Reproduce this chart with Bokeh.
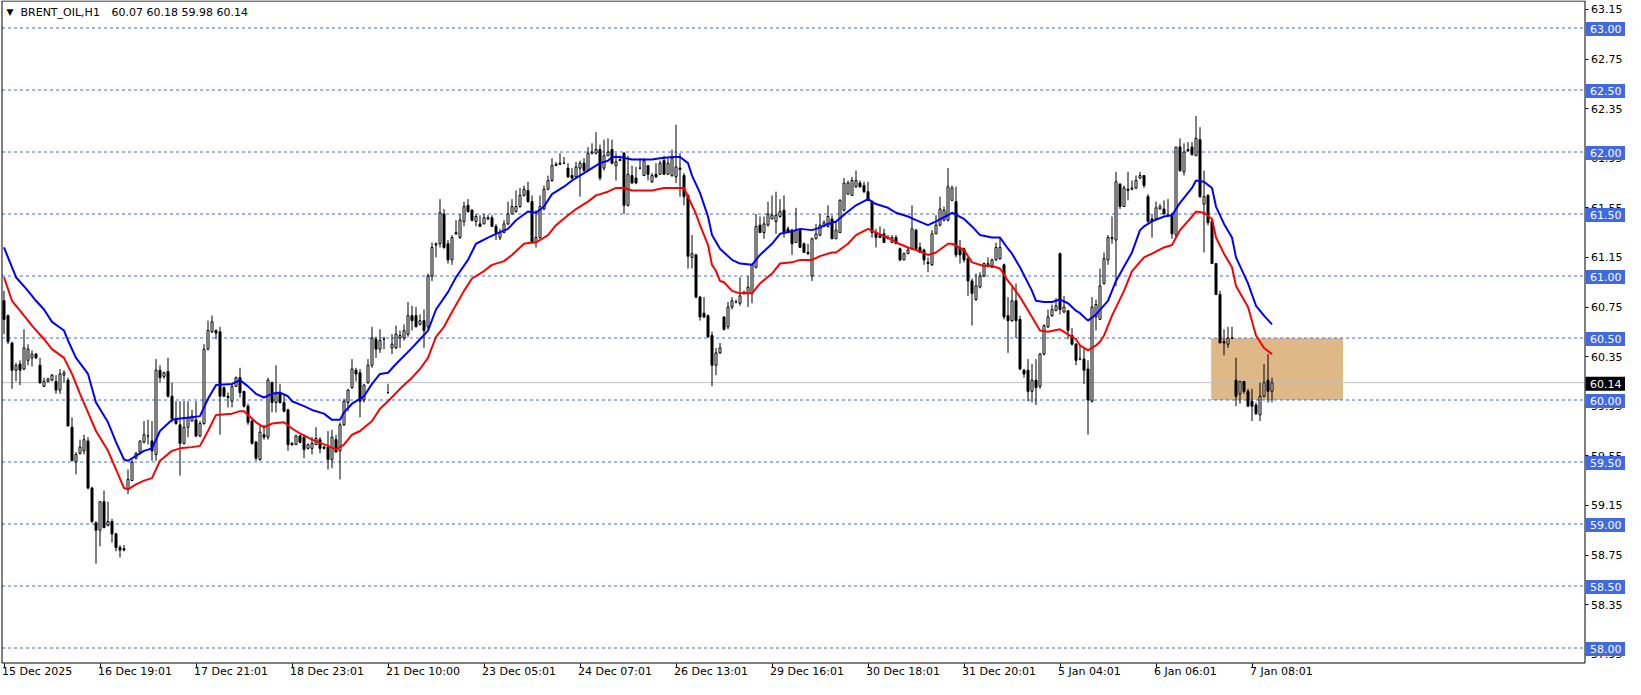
from bokeh.plotting import figure
from bokeh.models import (Range1d, LinearAxis, FixedTicker, NumeralTickFormatter,
                          BoxAnnotation, Label, ColumnDataSource)
from bokeh.core.properties import value
from bokeh.embed import file_html
from bokeh.resources import INLINE

# ---------------- data ----------------
symbol = "BRENT_OIL,H1"
last_ohlc = [60.07, 60.18, 59.98, 60.14]

opens = [
    60.80, 60.68, 60.46, 60.24, 60.29, 60.25, 60.32, 60.34, 60.37, 60.28,
    60.11, 60.15, 60.16, 60.15, 60.08, 60.20, 60.16, 59.78, 59.50, 59.57,
    59.59, 59.67, 59.29, 59.01, 58.95, 59.18, 58.99, 59.02, 58.92, 58.81,
    58.80, 59.28, 59.35, 59.53, 59.58, 59.66, 59.71, 59.67, 59.56, 60.24,
    60.19, 60.23, 60.03, 59.85, 59.80, 59.65, 59.78, 59.83, 59.84, 59.71,
    59.81, 60.41, 60.55, 60.56, 60.55, 60.10, 60.03, 59.99, 60.11, 60.18,
    60.07, 59.95, 59.83, 59.66, 59.52, 59.72, 59.70, 60.14, 59.98, 60.06,
    59.98, 59.92, 59.65, 59.64, 59.71, 59.70, 59.61, 59.61, 59.64, 59.68,
    59.62, 59.62, 59.52, 59.68, 59.59, 59.80, 59.98, 60.10, 60.24, 60.22,
    60.00, 60.14, 60.28, 60.49, 60.41, 60.49, 60.06, 60.42, 60.42, 60.50,
    60.50, 60.53, 60.68, 60.68, 60.61, 60.64, 60.59, 61.00, 61.25, 61.26,
    61.50, 61.26, 61.13, 61.34, 61.31, 61.44, 61.57, 61.53, 61.44, 61.42,
    61.42, 61.46, 61.47, 61.40, 61.31, 61.35, 61.42, 61.50, 61.52, 61.56,
    61.65, 61.69, 61.60, 61.27, 61.31, 61.54, 61.70, 61.77, 61.89, 61.90,
    61.91, 61.87, 61.81, 61.80, 61.87, 61.91, 61.85, 61.99, 61.99, 62.02,
    61.87, 61.97, 62.02, 61.89, 61.93, 61.99, 61.57, 61.81, 61.79, 61.87,
    61.81, 61.89, 61.76, 61.82, 61.82, 61.93, 61.82, 61.81, 61.80, 61.87,
    61.81, 61.65, 61.15, 61.17, 60.83, 60.70, 60.68, 60.52, 60.28, 60.38,
    60.67, 60.59, 60.75, 60.79, 60.78, 60.86, 60.86, 60.86, 61.07, 61.41,
    61.35, 61.41, 61.46, 61.44, 61.48, 61.53, 61.38, 61.37, 61.27, 61.37,
    61.26, 61.19, 61.00, 61.30, 61.33, 61.40, 61.40, 61.46, 61.30, 61.35,
    61.53, 61.66, 61.65, 61.72, 61.75, 61.73, 61.68, 61.60, 61.35, 61.33,
    61.34, 61.31, 61.27, 61.31, 61.22, 61.13, 61.18, 61.22, 61.37, 61.23,
    61.21, 61.11, 61.09, 61.34, 61.41, 61.45, 61.45, 61.61, 61.60, 61.23,
    61.22, 61.14, 60.96, 60.81, 60.91, 61.00, 61.09, 61.07, 61.13, 61.14,
    61.09, 60.68, 60.64, 60.80, 60.65, 60.24, 60.24, 60.07, 60.16, 60.11,
    60.37, 60.59, 60.68, 60.72, 61.18, 60.71, 60.72, 60.52, 60.45, 60.33,
    60.33, 60.25, 59.99, 60.67, 60.65, 60.94, 61.13, 61.30, 61.29, 61.74,
    61.56, 61.69, 61.70, 61.71, 61.79, 61.81, 61.64, 61.46, 61.46, 61.54,
    61.54, 61.49, 61.50, 61.33, 62.04, 61.84, 62.01, 62.04, 61.97, 62.10,
    61.58, 61.65, 61.44, 61.10, 60.85, 60.47, 60.45, 60.50, 60.16, 60.05,
    60.15, 60.07, 59.99, 59.96, 59.88, 60.03, 60.16, 60.07,
]

highs = [
    60.88, 60.69, 60.47, 60.30, 60.32, 60.57, 60.45, 60.40, 60.38, 60.34,
    60.18, 60.18, 60.21, 60.20, 60.25, 60.24, 60.18, 59.86, 59.58, 59.68,
    59.72, 59.70, 59.30, 59.02, 59.18, 59.27, 59.18, 59.04, 58.93, 58.83,
    58.83, 59.44, 59.52, 59.58, 59.67, 59.83, 59.84, 59.83, 60.33, 60.28,
    60.23, 60.34, 60.14, 59.99, 59.99, 59.99, 59.99, 59.92, 59.99, 59.83,
    60.45, 60.64, 60.68, 60.57, 60.59, 60.11, 60.06, 60.13, 60.19, 60.26,
    60.07, 59.97, 59.84, 59.67, 59.79, 59.80, 60.18, 60.15, 60.28, 60.13,
    60.05, 59.93, 59.66, 59.72, 59.72, 59.72, 59.65, 59.70, 59.78, 59.70,
    59.63, 59.75, 59.76, 59.72, 59.82, 60.01, 60.09, 60.33, 60.26, 60.25,
    60.13, 60.33, 60.59, 60.51, 60.57, 60.51, 60.13, 60.53, 60.60, 60.56,
    60.61, 60.79, 60.76, 60.75, 60.69, 60.73, 61.02, 61.27, 61.27, 61.62,
    61.54, 61.29, 61.33, 61.45, 61.50, 61.60, 61.62, 61.54, 61.50, 61.49,
    61.50, 61.49, 61.49, 61.42, 61.38, 61.45, 61.60, 61.62, 61.69, 61.71,
    61.73, 61.76, 61.65, 61.53, 61.65, 61.73, 61.81, 61.95, 61.92, 61.99,
    61.96, 61.91, 61.87, 61.92, 61.93, 61.95, 62.04, 62.07, 62.16, 62.06,
    62.10, 62.11, 62.10, 61.99, 61.97, 62.00, 61.97, 61.89, 61.88, 61.95,
    61.95, 61.89, 61.83, 61.91, 61.93, 61.97, 61.95, 62.02, 62.22, 61.99,
    61.83, 61.66, 61.33, 61.18, 60.84, 60.83, 60.69, 60.55, 60.42, 60.46,
    60.67, 60.79, 60.83, 60.81, 60.99, 60.88, 61.00, 61.10, 61.50, 61.48,
    61.48, 61.60, 61.65, 61.68, 61.62, 61.65, 61.40, 61.38, 61.55, 61.38,
    61.27, 61.26, 61.31, 61.42, 61.50, 61.45, 61.57, 61.49, 61.44, 61.62,
    61.79, 61.77, 61.80, 61.85, 61.77, 61.76, 61.76, 61.61, 61.38, 61.40,
    61.38, 61.33, 61.33, 61.33, 61.23, 61.19, 61.23, 61.57, 61.38, 61.27,
    61.22, 61.15, 61.37, 61.49, 61.64, 61.56, 61.87, 61.73, 61.72, 61.29,
    61.23, 61.15, 60.98, 61.02, 61.03, 61.11, 61.15, 61.14, 61.27, 61.31,
    61.10, 60.83, 60.91, 60.94, 60.68, 60.25, 60.33, 60.29, 60.33, 60.38,
    60.61, 60.73, 60.77, 60.82, 61.19, 60.84, 60.72, 60.58, 60.46, 60.44,
    60.42, 60.32, 60.83, 60.81, 61.06, 61.19, 61.33, 61.48, 61.84, 61.75,
    61.73, 61.84, 61.77, 61.81, 61.84, 61.81, 61.66, 61.50, 61.60, 61.58,
    61.61, 61.62, 61.51, 62.04, 62.11, 62.07, 62.08, 62.08, 62.29, 62.20,
    61.85, 61.66, 61.45, 61.10, 60.88, 60.57, 60.59, 60.59, 60.34, 60.15,
    60.15, 60.09, 60.09, 59.98, 60.14, 60.29, 60.37, 60.18,
]

lows = [
    60.53, 60.45, 60.09, 60.15, 60.12, 60.24, 60.28, 60.27, 60.33, 60.13,
    60.11, 60.14, 60.15, 60.05, 60.05, 60.14, 59.79, 59.51, 59.40, 59.56,
    59.56, 59.28, 59.01, 58.68, 58.82, 58.97, 58.98, 58.85, 58.78, 58.73,
    58.78, 59.24, 59.35, 59.52, 59.56, 59.65, 59.64, 59.51, 59.51, 60.14,
    60.17, 60.02, 59.82, 59.80, 59.39, 59.64, 59.70, 59.83, 59.70, 59.70,
    59.80, 60.40, 60.54, 60.49, 59.72, 60.03, 59.94, 59.94, 60.11, 60.02,
    59.94, 59.80, 59.64, 59.51, 59.51, 59.68, 59.68, 59.90, 59.90, 59.97,
    59.90, 59.59, 59.63, 59.64, 59.65, 59.53, 59.60, 59.56, 59.64, 59.57,
    59.60, 59.44, 59.45, 59.58, 59.36, 59.79, 59.91, 60.09, 60.15, 59.86,
    59.98, 60.13, 60.26, 60.34, 60.38, 60.41, 60.05, 60.37, 60.41, 60.42,
    60.48, 60.51, 60.56, 60.59, 60.60, 60.42, 60.57, 60.96, 61.15, 61.23,
    61.22, 61.10, 61.09, 61.33, 61.30, 61.40, 61.51, 61.44, 61.40, 61.40,
    61.42, 61.45, 61.40, 61.29, 61.29, 61.35, 61.41, 61.50, 61.51, 61.55,
    61.64, 61.59, 61.26, 61.23, 61.30, 61.53, 61.69, 61.76, 61.89, 61.90,
    61.91, 61.79, 61.78, 61.79, 61.64, 61.84, 61.84, 61.98, 61.98, 61.77,
    61.85, 61.97, 61.90, 61.77, 61.93, 61.50, 61.56, 61.74, 61.74, 61.86,
    61.81, 61.77, 61.75, 61.79, 61.82, 61.82, 61.82, 61.80, 61.75, 61.64,
    61.57, 61.06, 61.06, 60.82, 60.64, 60.66, 60.50, 60.11, 60.20, 60.37,
    60.56, 60.57, 60.73, 60.78, 60.76, 60.85, 60.75, 60.78, 61.06, 61.35,
    61.30, 61.40, 61.46, 61.34, 61.47, 61.31, 61.35, 61.17, 61.27, 61.23,
    61.19, 61.17, 60.96, 61.30, 61.32, 61.40, 61.39, 61.30, 61.30, 61.35,
    61.52, 61.66, 61.65, 61.71, 61.71, 61.67, 61.61, 61.31, 61.23, 61.31,
    61.27, 61.30, 61.27, 61.26, 61.12, 61.13, 61.18, 61.21, 61.21, 61.19,
    61.09, 61.03, 61.08, 61.34, 61.40, 61.44, 61.44, 61.61, 61.15, 61.10,
    61.11, 60.84, 60.60, 60.80, 60.90, 60.99, 61.08, 61.07, 61.12, 61.13,
    60.65, 60.38, 60.63, 60.50, 60.24, 60.18, 59.99, 59.98, 59.96, 60.09,
    60.36, 60.58, 60.67, 60.72, 60.69, 60.70, 60.49, 60.44, 60.28, 60.32,
    60.13, 59.72, 59.98, 60.56, 60.65, 60.93, 61.09, 61.26, 60.92, 61.54,
    61.56, 61.61, 61.69, 61.70, 61.78, 61.71, 61.43, 61.31, 61.46, 61.54,
    61.50, 61.48, 61.30, 61.31, 61.84, 61.81, 62.00, 61.97, 61.97, 61.63,
    61.19, 61.41, 61.10, 60.85, 60.46, 60.36, 60.42, 60.49, 59.95, 59.97,
    60.05, 59.95, 59.83, 59.88, 59.83, 60.02, 59.98, 59.98,
]

closes = [
    60.65, 60.47, 60.24, 60.28, 60.24, 60.42, 60.41, 60.37, 60.34, 60.14,
    60.15, 60.17, 60.20, 60.08, 60.21, 60.22, 59.79, 59.51, 59.56, 59.62,
    59.68, 59.29, 59.02, 58.95, 59.18, 58.97, 59.02, 58.92, 58.81, 58.79,
    58.79, 59.36, 59.50, 59.57, 59.67, 59.72, 59.71, 59.59, 60.24, 60.18,
    60.22, 60.03, 59.85, 59.81, 59.65, 59.78, 59.86, 59.87, 59.71, 59.81,
    60.41, 60.56, 60.63, 60.54, 60.03, 60.03, 60.02, 60.11, 60.18, 60.06,
    59.95, 59.82, 59.65, 59.53, 59.74, 59.70, 60.16, 59.98, 60.05, 59.98,
    59.91, 59.64, 59.64, 59.71, 59.66, 59.60, 59.64, 59.65, 59.69, 59.61,
    59.61, 59.52, 59.70, 59.58, 59.80, 59.99, 60.08, 60.25, 60.21, 59.99,
    60.12, 60.28, 60.50, 60.41, 60.48, 60.49, 60.06, 60.45, 60.53, 60.52,
    60.56, 60.68, 60.64, 60.59, 60.64, 60.56, 61.00, 61.23, 61.26, 61.51,
    61.23, 61.13, 61.31, 61.35, 61.45, 61.56, 61.52, 61.45, 61.48, 61.40,
    61.47, 61.47, 61.40, 61.35, 61.35, 61.42, 61.50, 61.56, 61.56, 61.65,
    61.70, 61.60, 61.27, 61.31, 61.56, 61.70, 61.77, 61.89, 61.90, 61.91,
    61.91, 61.80, 61.79, 61.88, 61.91, 61.85, 61.99, 62.00, 62.02, 61.79,
    61.97, 62.00, 61.91, 61.92, 61.94, 61.57, 61.82, 61.75, 61.75, 61.87,
    61.93, 61.82, 61.81, 61.80, 61.91, 61.82, 61.91, 61.95, 61.88, 61.86,
    61.64, 61.16, 61.18, 60.83, 60.67, 60.67, 60.51, 60.28, 60.38, 60.42,
    60.57, 60.75, 60.80, 60.79, 60.84, 60.87, 60.91, 61.09, 61.40, 61.35,
    61.42, 61.50, 61.49, 61.49, 61.52, 61.35, 61.35, 61.26, 61.37, 61.23,
    61.19, 61.18, 61.30, 61.34, 61.41, 61.43, 61.48, 61.30, 61.37, 61.61,
    61.75, 61.75, 61.77, 61.77, 61.72, 61.68, 61.61, 61.35, 61.31, 61.31,
    61.27, 61.30, 61.31, 61.26, 61.13, 61.18, 61.21, 61.38, 61.22, 61.19,
    61.13, 61.10, 61.34, 61.41, 61.54, 61.53, 61.72, 61.71, 61.17, 61.17,
    61.13, 60.96, 60.86, 60.92, 61.00, 61.10, 61.10, 61.13, 61.23, 61.23,
    60.67, 60.64, 60.80, 60.64, 60.25, 60.21, 60.07, 60.16, 60.10, 60.37,
    60.60, 60.67, 60.73, 60.76, 60.73, 60.75, 60.56, 60.45, 60.32, 60.33,
    60.24, 60.00, 60.75, 60.77, 60.92, 61.14, 61.31, 61.31, 61.76, 61.56,
    61.71, 61.70, 61.71, 61.77, 61.81, 61.73, 61.44, 61.44, 61.55, 61.56,
    61.50, 61.49, 61.34, 62.04, 61.85, 62.00, 62.02, 61.98, 62.11, 61.64,
    61.64, 61.43, 61.10, 60.85, 60.46, 60.46, 60.50, 60.50, 60.03, 60.15,
    60.07, 59.95, 59.95, 59.89, 60.03, 60.14, 60.07, 60.14,
]

# moving-average style bands (bar index, price)
blue_bar = [0, 3, 6, 8, 10, 12, 15, 16, 18, 21, 23, 26, 28, 30, 31, 33, 35, 37, 39, 42,
            44, 47, 49, 51, 53, 57, 59, 61, 63, 65, 67, 69, 71, 72, 75, 77, 80, 82, 84, 85,
            87, 90, 92, 94, 96, 98, 102, 104, 106, 108, 111, 113, 116, 118, 121, 123, 126, 128, 131, 133,
            135, 137, 140, 142, 145, 147, 149, 151, 152, 154, 157, 159, 162, 164, 167, 169, 171, 172, 174, 176,
            177, 179, 182, 184, 187, 189, 192, 194, 197, 199, 202, 204, 206, 208, 211, 213, 216, 218, 221, 223,
            226, 228, 231, 233, 236, 237, 240, 242, 244, 247, 249, 251, 252, 254, 257, 258, 260, 262, 264, 266,
            268, 269, 271, 273, 276, 278, 282, 284, 285, 287, 290, 292, 294, 297, 298, 300, 302, 303, 305, 307,
            308, 311, 313, 315, 317]
blue_price = [61.23, 60.99, 60.88, 60.80, 60.73, 60.63, 60.56, 60.48, 60.34, 60.21, 59.98, 59.82, 59.66, 59.52, 59.51, 59.55, 59.59, 59.61, 59.75, 59.84,
              59.85, 59.86, 59.87, 60.01, 60.12, 60.13, 60.16, 60.11, 60.05, 60.02, 60.05, 60.06, 60.03, 59.99, 59.95, 59.92, 59.89, 59.84, 59.84, 59.90,
              59.97, 60.03, 60.13, 60.21, 60.22, 60.29, 60.42, 60.49, 60.56, 60.73, 60.87, 60.99, 61.13, 61.26, 61.31, 61.34, 61.38, 61.45, 61.52, 61.51,
              61.56, 61.66, 61.72, 61.77, 61.83, 61.87, 61.91, 61.93, 61.96, 61.96, 61.94, 61.94, 61.94, 61.95, 61.96, 61.96, 61.91, 61.81, 61.67, 61.48,
              61.33, 61.22, 61.13, 61.10, 61.09, 61.17, 61.26, 61.34, 61.36, 61.38, 61.37, 61.39, 61.42, 61.44, 61.52, 61.57, 61.62, 61.58, 61.55, 61.51,
              61.48, 61.45, 61.41, 61.44, 61.49, 61.51, 61.46, 61.40, 61.33, 61.31, 61.31, 61.22, 61.18, 61.07, 60.88, 60.80, 60.79, 60.79, 60.81, 60.78,
              60.72, 60.70, 60.64, 60.69, 60.80, 60.96, 61.19, 61.37, 61.40, 61.44, 61.48, 61.49, 61.59, 61.71, 61.77, 61.76, 61.71, 61.56, 61.42, 61.31,
              61.15, 60.94, 60.76, 60.68, 60.61]

red_bar = [0, 2, 4, 7, 10, 12, 15, 17, 19, 21, 23, 26, 28, 30, 31, 33, 35, 37, 39, 42,
           44, 47, 49, 51, 53, 57, 59, 60, 63, 65, 67, 70, 72, 74, 77, 81, 83, 85, 87, 89,
           92, 94, 96, 99, 102, 104, 106, 108, 110, 112, 115, 117, 120, 122, 125, 127, 130, 132, 133, 136,
           138, 141, 143, 146, 148, 151, 153, 155, 157, 160, 162, 165, 167, 170, 171, 173, 174, 176, 177, 178,
           179, 180, 182, 184, 187, 189, 192, 194, 197, 199, 202, 204, 207, 208, 211, 213, 216, 218, 221, 223,
           226, 228, 231, 233, 236, 237, 240, 242, 245, 247, 249, 251, 252, 254, 257, 259, 261, 264, 266, 268,
           269, 271, 272, 273, 274, 275, 277, 280, 282, 285, 287, 290, 292, 294, 297, 298, 300, 302, 303, 305,
           307, 308, 311, 313, 315, 317]
red_price = [60.99, 60.80, 60.72, 60.60, 60.49, 60.41, 60.34, 60.21, 60.05, 59.90, 59.75, 59.59, 59.44, 59.29, 59.28, 59.32, 59.35, 59.37, 59.51, 59.59,
             59.61, 59.62, 59.63, 59.75, 59.88, 59.89, 59.91, 59.91, 59.82, 59.78, 59.81, 59.82, 59.77, 59.73, 59.68, 59.63, 59.60, 59.64, 59.72, 59.75,
             59.83, 59.93, 59.99, 60.09, 60.18, 60.25, 60.34, 60.51, 60.59, 60.71, 60.88, 60.98, 61.04, 61.09, 61.12, 61.17, 61.26, 61.27, 61.27, 61.33,
             61.41, 61.49, 61.54, 61.60, 61.65, 61.68, 61.71, 61.71, 61.69, 61.69, 61.69, 61.71, 61.71, 61.71, 61.64, 61.50, 61.41, 61.25, 61.09, 61.04,
             60.96, 60.95, 60.88, 60.86, 60.86, 60.94, 61.02, 61.10, 61.11, 61.13, 61.13, 61.16, 61.19, 61.19, 61.26, 61.33, 61.38, 61.35, 61.31, 61.27,
             61.23, 61.21, 61.17, 61.19, 61.26, 61.26, 61.21, 61.11, 61.08, 61.08, 61.06, 60.96, 60.92, 60.83, 60.67, 60.56, 60.55, 60.57, 60.53, 60.49,
             60.44, 60.40, 60.42, 60.44, 60.47, 60.52, 60.68, 60.88, 61.04, 61.15, 61.18, 61.23, 61.25, 61.37, 61.48, 61.52, 61.51, 61.46, 61.31, 61.18,
             61.07, 60.92, 60.75, 60.52, 60.42, 60.37]

time_label_bars = [0, 24, 48, 72, 96, 120, 144, 168, 192, 216, 240, 264, 288, 312]
time_labels = ["15 Dec 2025", "16 Dec 19:01", "17 Dec 21:01", "18 Dec 23:01", "21 Dec 10:00",
               "23 Dec 05:01", "24 Dec 07:01", "26 Dec 13:01", "29 Dec 16:01", "30 Dec 18:01",
               "31 Dec 20:01", "5 Jan 04:01", "6 Jan 06:01", "7 Jan 08:01"]

price_ticks = [57.95, 58.35, 58.75, 59.15, 59.55, 59.95, 60.35, 60.75,
               61.15, 61.55, 61.95, 62.35, 62.75, 63.15]
level_lines = [58.00, 58.50, 59.00, 59.50, 60.00, 60.50, 61.00, 61.50, 62.00, 62.50, 63.00]
current_price = 60.14

zone_left_bar, zone_right_bar = 301.8, 334.75
zone_low, zone_high = 60.00, 60.50

# ---------------- geometry / style ----------------
FONT = "DejaVu Sans"
W, H = 1625, 679
PX_BAR = 4.0          # pixels per hourly bar
PX_PRICE = 124.0      # pixels per 1.00 of price

X0 = -0.875
XR = X0 + W / PX_BAR
Y1 = 63.0 + 27.5 / PX_PRICE
YB = Y1 - H / PX_PRICE

def bx(px):           # horizontal pixel -> bar coordinate
    return X0 + px / PX_BAR

def pv(px):           # vertical pixel (from top) -> price
    return Y1 - px / PX_PRICE

def py(dpx):          # vertical pixel distance -> price distance
    return dpx / PX_PRICE

chart_left = bx(1.5)
chart_right = bx(1584.5)
chart_top = pv(0.5)
chart_bottom = pv(662.5)

p = figure(width=W, height=H, output_backend="svg", toolbar_location=None,
           x_range=Range1d(X0, XR), y_range=Range1d(YB, Y1),
           x_axis_location=None, y_axis_location=None,
           min_border_left=0, min_border_right=0, min_border_top=0, min_border_bottom=0,
           background_fill_color="white", border_fill_color="white")
p.xgrid.grid_line_color = None
p.ygrid.grid_line_color = None
p.outline_line_color = None

# price axis (ticks + labels) drawn at the chart's right border
yax = LinearAxis(ticker=FixedTicker(ticks=price_ticks, minor_ticks=[]),
                 formatter=NumeralTickFormatter(format="0.00"),
                 fixed_location=chart_right)
yax.level = "underlay"
yax.axis_line_color = None
yax.major_tick_out = 3
yax.major_tick_in = 0
yax.minor_tick_out = 0
yax.minor_tick_in = 0
yax.major_tick_line_color = "black"
yax.major_label_text_font = FONT
yax.major_label_text_font_size = "11px"
yax.major_label_text_color = "black"
yax.major_label_standoff = 3
p.add_layout(yax, "right")

# time axis ticks at the chart's bottom border
xax = LinearAxis(ticker=FixedTicker(ticks=time_label_bars, minor_ticks=[]),
                 fixed_location=chart_bottom)
xax.level = "underlay"
xax.axis_line_color = None
xax.major_label_overrides = {b: "" for b in time_label_bars}
xax.major_label_text_font_size = "1px"
xax.major_tick_out = 4
xax.major_tick_in = 0
xax.minor_tick_out = 0
xax.minor_tick_in = 0
xax.major_tick_line_color = "black"
p.add_layout(xax, "below")

# zone rectangle
p.add_layout(BoxAnnotation(left=zone_left_bar, right=zone_right_bar, bottom=zone_low, top=zone_high,
                           fill_color="#DEB887", fill_alpha=1.0, line_color=None, level="underlay"))

# horizontal levels and current-price line
p.segment(x0=[chart_left] * len(level_lines), y0=level_lines,
          x1=[chart_right] * len(level_lines), y1=level_lines,
          line_color="#4169E1", line_width=1, line_dash="3 3")
p.segment(x0=[chart_left], y0=[current_price], x1=[chart_right], y1=[current_price],
          line_color="#C0C0C0", line_width=1)

# candles
n = min(len(opens), len(highs), len(lows), len(closes))
xs = list(range(n))
src = ColumnDataSource(dict(
    x=xs,
    left=[i - 0.25 for i in xs],
    right=[i + 0.25 for i in xs],
    hi=highs[:n], lo=lows[:n],
    top=[max(o, c) for o, c in zip(opens[:n], closes[:n])],
    bot=[min(o, c) for o, c in zip(opens[:n], closes[:n])],
    fill=["white" if c >= o else "black" for o, c in zip(opens[:n], closes[:n])],
))
p.segment(x0="x", y0="lo", x1="x", y1="hi", source=src, line_color="black", line_width=1)
p.quad(left="left", right="right", top="top", bottom="bot", source=src,
       fill_color="fill", line_color="black", line_width=1)

# bands
p.line(blue_bar, blue_price, line_color="#0000FF", line_width=2)
p.line(red_bar, red_price, line_color="#FF0000", line_width=2)

# chart border (left, right, top, bottom)
p.segment(x0=[chart_left, chart_right, chart_left, chart_left],
          y0=[chart_bottom, chart_bottom, chart_top, chart_bottom],
          x1=[chart_left, chart_right, chart_right, chart_right],
          y1=[chart_top, chart_top, chart_top, chart_bottom],
          line_color="black", line_width=1)

# price boxes on the right
box_l, box_r = bx(1585), bx(1625)
p.quad(left=[box_l] * len(level_lines), right=[box_r] * len(level_lines),
       top=[v + py(6) for v in level_lines], bottom=[v - py(8) for v in level_lines],
       fill_color="#4169E1", line_color=None)
p.text(x=[bx(1589.5)] * len(level_lines), y=[v - py(1) for v in level_lines],
       text=[f"{v:.2f}" for v in level_lines], text_align="left", text_baseline="middle",
       text_font=value(FONT), text_font_size="11px", text_color="white")
p.quad(left=[box_l], right=[box_r], top=[current_price + py(6)],
       bottom=[current_price - py(8)], fill_color="black", line_color=None)
p.text(x=[bx(1589.5)], y=[current_price - py(1)], text=[f"{current_price:.2f}"],
       text_align="left", text_baseline="middle",
       text_font=value(FONT), text_font_size="11px", text_color="white")

# time labels
p.text(x=time_label_bars, y=[chart_bottom] * len(time_label_bars), text=time_labels,
       text_align="left", text_baseline="top", x_offset=-2, y_offset=2,
       text_font=value(FONT), text_font_size="11px", text_color="black")

# header: triangle, symbol, last OHLC
p.add_layout(Label(x=X0, y=Y1, text="\u25BC", text_align="left", text_baseline="top",
                   x_offset=6, y_offset=-6, text_font=FONT, text_font_size="9px",
                   text_color="black"))
p.add_layout(Label(x=X0, y=Y1, text=symbol, text_align="left", text_baseline="top",
                   x_offset=20, y_offset=-5, text_font=FONT, text_font_size="11px",
                   text_color="black"))
p.add_layout(Label(x=X0, y=Y1, text=" ".join(f"{v:.2f}" for v in last_ohlc),
                   text_align="left", text_baseline="top",
                   x_offset=111, y_offset=-5, text_font=FONT, text_font_size="11px",
                   text_color="black"))

open("out.html", "w").write(file_html(p, INLINE, title=symbol))
